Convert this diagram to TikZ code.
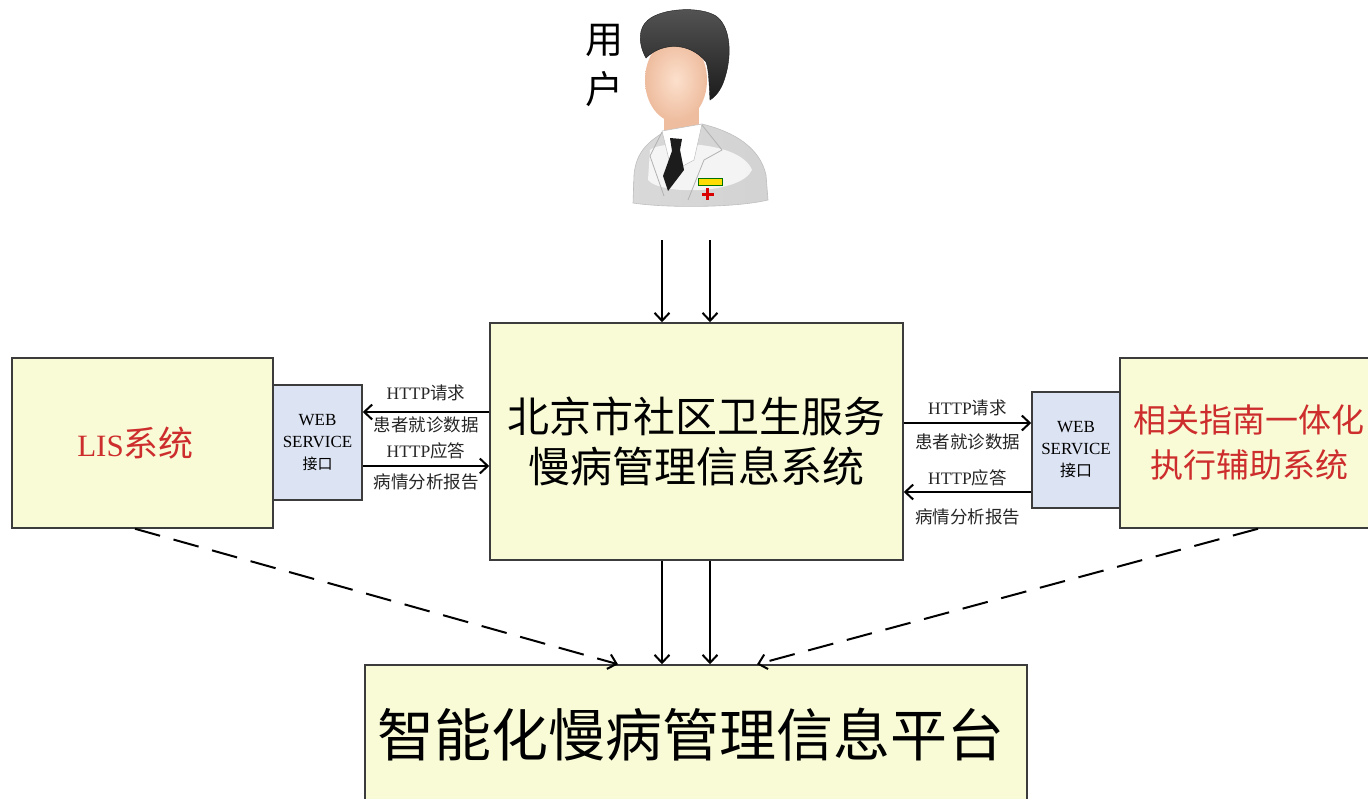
\documentclass[tikz,border=0pt]{standalone}
\usepackage{fontspec}
\setmainfont{Liberation Serif}
\newfontfamily\cjk{Noto Sans CJK SC}
\usetikzlibrary{arrows.meta,calc}

\definecolor{boxfill}{RGB}{248,251,214}
\definecolor{wsfill}{RGB}{220,227,242}
\definecolor{edge}{RGB}{60,60,60}
\definecolor{sysred}{RGB}{205,45,45}
\definecolor{skin}{RGB}{252,224,204}
\definecolor{skindark}{RGB}{238,188,158}
\definecolor{hair}{RGB}{28,28,28}

\tikzset{
  sysbox/.style={draw=edge, line width=1.5pt, fill=boxfill, inner sep=0pt, align=center},
  wsbox/.style={draw=edge, line width=1.5pt, fill=wsfill, inner sep=0pt, align=center,
    font=\fontsize{17}{22}\selectfont},
  flow/.style={line width=2pt, -{Straight Barb[length=8pt,width=15pt,line width=2pt]}},
  dashflow/.style={flow, dash pattern=on 26pt off 14pt},
  lbl/.style={inner sep=0pt, text=black!85, font=\fontsize{17.5}{20}\selectfont},
}

\begin{document}
\begin{tikzpicture}[x=1pt,y=-1pt]
\useasboundingbox (0,0) rectangle (1368,798);

% ---------- user icon ----------
% coat
\shade[left color=gray!30, middle color=white, right color=gray!35, draw=gray!50, line width=0.6pt]
  (633,203) -- (634,175) .. controls (636,152) and (648,142) .. (664,132)
  -- (702,124) .. controls (735,132) and (760,148) .. (766,175) -- (768,200)
  .. controls (735,208) and (665,208) .. (633,203) -- cycle;
\fill[white, opacity=0.75] (650,150) .. controls (660,140) and (740,140) .. (752,170)
  .. controls (740,195) and (660,195) .. (648,180) -- cycle;
% neck
\fill[skindark] (664,104) rectangle (699,134);
% shirt
\fill[white, draw=gray!50, line width=0.5pt] (662,131) -- (702,124) -- (694,160) -- (672,172) -- cycle;
% tie
\fill[hair] (670,138) -- (682,139) -- (680,150) -- (684,170) -- (668,191) -- (663,176) -- (672,151) -- cycle;
% lapels
\draw[gray!60, line width=0.8pt] (662,132) -- (650,156) -- (664,196);
\draw[gray!60, line width=0.8pt] (702,125) -- (722,150) -- (704,160) -- (688,200);
% badge
\fill[yellow!80!orange, draw=green!45!black, line width=0.4pt] (698,178) rectangle (722,185);
\fill[red!85!black] (706,188) rectangle (709,200);
\fill[red!85!black] (701.5,192.5) rectangle (713.5,195.5);
% face
\shade[inner color=skin, outer color=skindark] (676,80) ellipse [x radius=31pt, y radius=42pt];
% hair
\shade[top color=hair!75, bottom color=hair, draw=hair, line width=0.4pt]
  (646,58) .. controls (638,44) and (638,28) .. (648,20)
  .. controls (662,8) and (700,6) .. (716,16)
  .. controls (730,26) and (732,52) .. (726,74)
  .. controls (723,86) and (718,95) .. (710,100)
  .. controls (709,85) and (709,70) .. (706,62)
  .. controls (690,42) and (662,42) .. (646,58) -- cycle;

\node[font=\cjk\fontsize{38}{50}\selectfont, align=center, inner sep=0pt] (userlbl) at (604,66) {用\\户};

\coordinate (u1) at (662,240);
\coordinate (u2) at (710,240);

% ---------- system boxes ----------
\node[sysbox, minimum width=413pt, minimum height=237pt,
      font=\cjk\fontsize{42}{50}\selectfont] (ctr) at (696.5,441.5)
      {北京市社区卫生服务\\慢病管理信息系统};

\node[sysbox, minimum width=261pt, minimum height=170pt, text=sysred] (lis) at (142.5,443)
      {\hspace*{-14pt}{\fontsize{31}{34}\selectfont LIS}{\cjk\fontsize{35}{40}\selectfont 系统}};

\node[wsbox, minimum width=89pt, minimum height=115pt] (lws) at (317.5,442.5)
      {WEB\\SERVICE\\{\cjk\fontsize{15}{20}\selectfont 接口}};

\node[sysbox, minimum width=252pt, minimum height=170pt, text=sysred,
      font=\cjk\fontsize{33}{45}\selectfont] (gde) at (1246,443)
      {\hspace*{6pt}相关指南一体化\\\hspace*{6pt}执行辅助系统};

\node[wsbox, minimum width=88pt, minimum height=116pt] (rws) at (1076,450)
      {WEB\\SERVICE\\{\cjk\fontsize{16}{20}\selectfont 接口}};

\node[sysbox, minimum width=662pt, minimum height=140pt,
      font=\cjk\fontsize{57}{60}\selectfont] (plat) at (696,735)
      {\hspace*{-10pt}智能化慢病管理信息平台};

% ---------- user to system ----------
\draw[flow] (u1) -- (u1 |- ctr.north);
\draw[flow] (u2) -- (u2 |- ctr.north);

% ---------- left interface ----------
\coordinate (la) at ([yshift=29.5pt]ctr.west);
\coordinate (lb) at ([yshift=-24.5pt]ctr.west);
\draw[flow] (la) -- (la -| lws.east)
  node[lbl, midway, yshift=19pt] {HTTP{\cjk 请求}}
  node[lbl, midway, yshift=-13pt] {\cjk 患者就诊数据};
\draw[flow] (lb -| lws.east) -- (lb)
  node[lbl, midway, yshift=15pt] {HTTP{\cjk 应答}}
  node[lbl, midway, yshift=-16pt] {\cjk 病情分析报告};

% ---------- right interface ----------
\coordinate (ra) at ([yshift=18.5pt]ctr.east);
\coordinate (rb) at ([yshift=-50.5pt]ctr.east);
\draw[flow] (ra) -- (ra -| rws.west)
  node[lbl, midway, yshift=15pt] {HTTP{\cjk 请求}}
  node[lbl, midway, yshift=-19pt] {\cjk 患者就诊数据};
\draw[flow] (rb -| rws.west) -- (rb)
  node[lbl, midway, yshift=14pt] {HTTP{\cjk 应答}}
  node[lbl, midway, yshift=-25pt] {\cjk 病情分析报告};

% ---------- system to platform ----------
\draw[flow] (u1 |- ctr.south) -- (u1 |- plat.north);
\draw[flow] (u2 |- ctr.south) -- (u2 |- plat.north);

\draw[dashflow] ([xshift=-7.5pt]lis.south) -- ([xshift=-78pt]plat.north);
\draw[dashflow] ([xshift=12pt]gde.south) -- ([xshift=61pt]plat.north);

\end{tikzpicture}
\end{document}
